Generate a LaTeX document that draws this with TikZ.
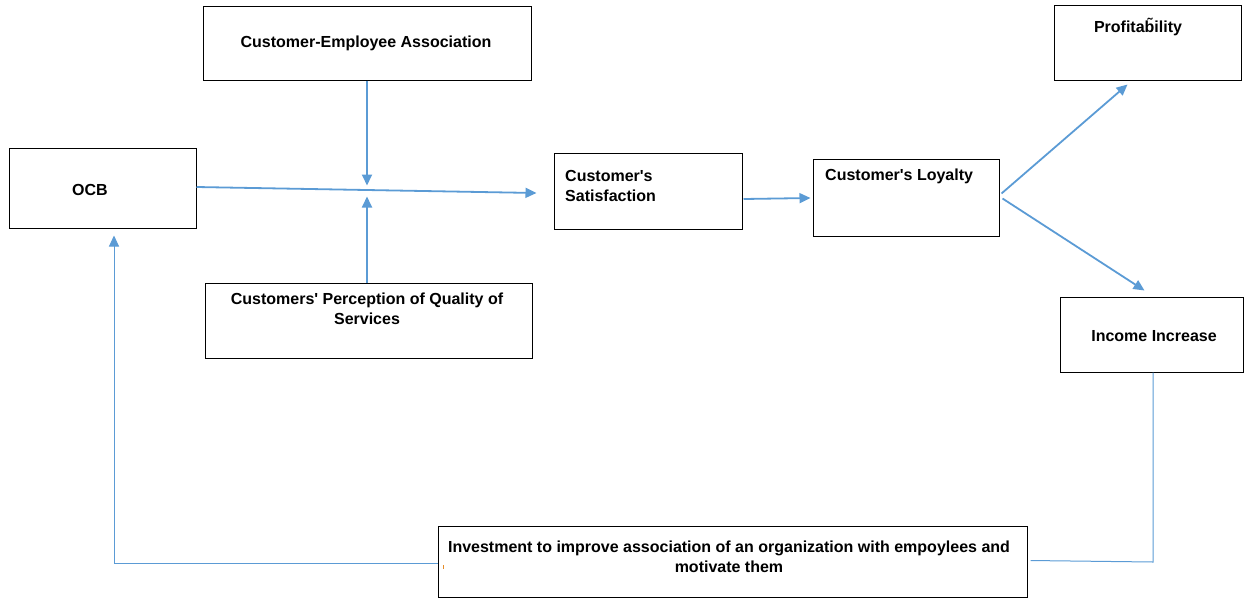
\documentclass[tikz,border=0pt]{standalone}
\usepackage{fontspec}
\setmainfont{Liberation Sans}
% a family without TeX ligatures, so that ' stays a straight quote
\newfontfamily\lblfont{Liberation Sans}
\usetikzlibrary{arrows.meta,calc}
\definecolor{flow}{RGB}{91,155,213}
\definecolor{speck}{RGB}{230,140,40}
\begin{document}
\begin{tikzpicture}[x=1pt,y=-1pt,
  box/.style={draw=black,line width=1pt,rectangle,inner sep=0pt},
  lbl/.style={font=\lblfont\fontsize{16}{20}\selectfont\bfseries,inner sep=0pt},
  arr/.style={draw=flow,line width=1.8pt,-{Triangle[length=11pt,width=10pt]}},
  back/.style={draw=flow,line width=1pt},
  backarr/.style={back,-{Triangle[length=11pt,width=10pt]}}]
\useasboundingbox (0,0) rectangle (1244,598);

% boxes
\node[box,minimum width=328pt,minimum height=74pt] (cea)  at (367,43)    {};
\node[box,minimum width=187pt,minimum height=80pt] (ocb)  at (102.5,188) {};
\node[box,minimum width=188pt,minimum height=76pt] (sat)  at (648,191)   {};
\node[box,minimum width=186pt,minimum height=77pt] (loy)  at (906,197.5) {};
\node[box,minimum width=327pt,minimum height=75pt] (perc) at (368.5,320.5) {};
\node[box,minimum width=187pt,minimum height=75pt] (prof) at (1147.5,42.5) {};
\node[box,minimum width=183pt,minimum height=75pt] (inc)  at (1151.5,334.5) {};
\node[box,minimum width=589pt,minimum height=71pt] (inv)  at (732.5,561.5) {};

% texts
\node[lbl] (tcea) at (366,43) {Customer-Employee Association};
\node[lbl] (tocb) at (90,190) {OCB};
\node[lbl,align=left,anchor=west] (tsat) at (565,186) {Customer's\\Satisfaction};
\node[lbl,anchor=west] (tloy) at (825,176) {Customer's Loyalty};
\node[lbl,align=center] (tperc) at (367,309) {Customers' Perception of Quality of\\Services};
\node[lbl] (tprof) at (1138,27) {Profita\~{b}ility};
\node[lbl] (tinc) at (1154,336) {Income Increase};
\node[lbl,align=center] (tinv) at (729,557) {Investment to improve association of an organization with empoylees and\\motivate them};
\fill[speck] (442.6,565) rectangle (443.8,569);

% forward flow
\draw[arr] ($(ocb.east)+(0,-1)$) -- ($(sat.west)+(-17,2)$);
\draw[arr] (cea.south) -- ($(cea.south)+(0,105)$);
\draw[arr] ($(perc.north)+(-1.5,0)$) -- ($(perc.north)+(-1.5,-86)$);
\draw[arr] ($(sat.east)+(1,8)$) -- ($(loy.west)+(-2,0.5)$);
\draw[arr] ($(loy.east)+(2,-4)$) -- ($(prof.south)+(-20,4)$);
\draw[arr] ($(loy.east)+(3,1)$) -- ($(inc.north)+(-7,-6)$);

% feedback loop
\coordinate (fbR) at (1153,562);
\coordinate (fbL) at (114,563);
\draw[back] ($(inc.south)+(1.5,0)$) -- (fbR) -- ($(inv.east)+(3,-1)$);
\draw[backarr] ($(inv.west)+(0,1.5)$) -- (fbL) -- ($(ocb.south)+(11.5,7)$);
\end{tikzpicture}
\end{document}
